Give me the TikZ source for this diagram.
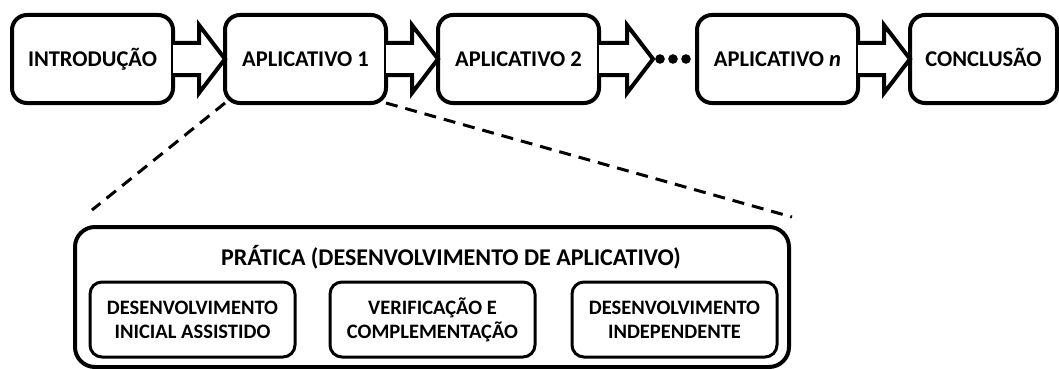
\documentclass[tikz,border=0pt]{standalone}
\usepackage{fontspec}
\setmainfont{Carlito}
\usetikzlibrary{positioning,calc}

\tikzset{
  box/.style={draw, line width=4pt, rounded corners=15pt, minimum width=161pt,
    minimum height=88pt, inner sep=0pt, outer sep=0pt,
    text height=14.4pt, text depth=0pt,
    font=\fontsize{22.5}{26}\selectfont\bfseries},
  subbox/.style={draw, line width=3pt, rounded corners=12pt, minimum width=205pt,
    minimum height=75pt, inner sep=0pt, outer sep=0pt, align=center,
    font=\fontsize{20.5}{24}\selectfont\bfseries},
  bigbox/.style={draw, line width=4pt, rounded corners=20pt, minimum width=714pt,
    minimum height=140pt, inner sep=0pt, outer sep=0pt},
  blockarrow/.style={draw, line width=4pt, fill=white},
  zoomline/.style={line width=3pt, dash pattern=on 12pt off 8pt}
}
\newcommand{\blockarrow}[2]{%
  \draw[blockarrow] ($(#1.east)+(0,-16)$) -- ($(#2.west)+(-26,-16)$)
    -- ($(#2.west)+(-26,-34)$) -- (#2.west) -- ($(#2.west)+(-26,34)$)
    -- ($(#2.west)+(-26,16)$) -- ($(#1.east)+(0,16)$);}

\begin{document}
\begin{tikzpicture}[x=1pt, y=-1pt, node distance=52pt]
  \useasboundingbox (0,0) rectangle (1059,369);

  % top row
  \node[box]  (intro)                       at (92.5,59)   {INTRODUÇÃO};
  \node[box]  (app1)  [right=of intro]                     {APLICATIVO 1};
  \node[box]  (app2)  [right=of app1]                      {APLICATIVO 2};
  \node[minimum width=44pt, inner sep=0pt, outer sep=0pt]
              (dots)  [right=54pt of app2]                 {};
  \node[box]  (appn)  [right=0pt of dots]                  {APLICATIVO \textit{n}};
  \node[box, minimum width=147pt] (concl) [right=of appn]  {CONCLUSÃO};

  \blockarrow{intro}{app1}
  \blockarrow{app1}{app2}
  \blockarrow{app2}{dots}
  \blockarrow{appn}{concl}
  \foreach \i in {0,1,2}
    \fill ($(dots.west)+(7+\i*13,0)$) circle (4.8pt);

  % detail of one app
  \node[bigbox] (prac) at (432,297) {};
  \node[font=\fontsize{24}{28}\selectfont\bfseries]
        (title) at (451,257) {PRÁTICA (DESENVOLVIMENTO DE APLICATIVO)};
  \node[subbox] (ver) at (432.5,319.5)     {VERIFICAÇÃO E\\COMPLEMENTAÇÃO};
  \node[subbox] (dia) [left=35pt of ver]  {DESENVOLVIMENTO\\INICIAL ASSISTIDO};
  \node[subbox] (ind) [right=37pt of ver] {DESENVOLVIMENTO\\INDEPENDENTE};

  \coordinate (zl) at (92,210);
  \coordinate (zr) at (792,217);
  \draw[zoomline] (app1.south west) -- (zl);
  \draw[zoomline] (app1.south east) -- (zr);
\end{tikzpicture}
\end{document}
